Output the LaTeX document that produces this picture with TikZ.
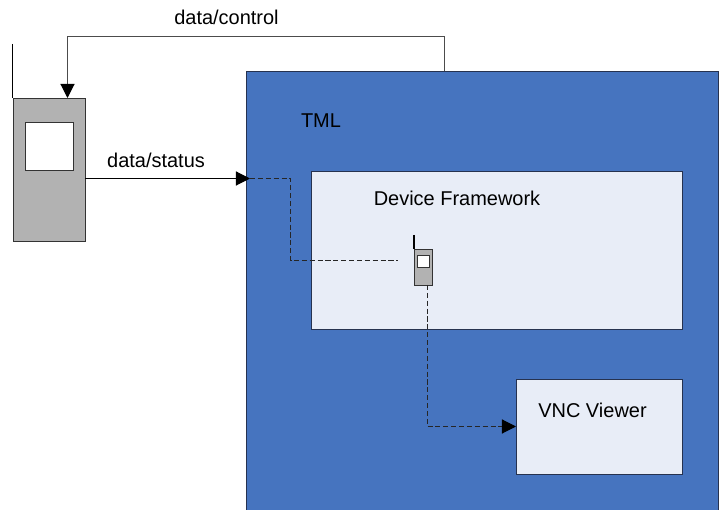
\documentclass[tikz,border=0pt]{standalone}
\usepackage{fontspec}
\setmainfont{Liberation Sans}
\usetikzlibrary{arrows.meta}
\definecolor{tmlblue}{HTML}{4674BF}
\definecolor{palebox}{HTML}{E8EDF7}
\definecolor{phonegray}{HTML}{B2B2B2}
\definecolor{edgeblue}{HTML}{26324F}
\tikzset{
  box/.style={draw=edgeblue,line width=.8pt,fill=palebox,inner sep=0pt},
  phonebox/.style={draw=black!80,line width=.8pt,fill=phonegray,inner sep=0pt},
  screenbox/.style={draw=black!80,line width=.8pt,fill=white,inner sep=0pt},
  label/.style={font=\fontsize{14.2}{17}\selectfont,inner sep=0pt},
  solidlink/.style={line width=.8pt,-{Triangle[length=10pt,width=10pt,color=black]}},
  dashlink/.style={line width=.8pt,dash pattern=on 3.6pt off 2pt,draw=black!85},
}
\begin{document}
\begin{tikzpicture}[x=.025cm,y=-.025cm]
  \useasboundingbox (0,0) rectangle (719,510);
  \node[box,fill=tmlblue,minimum width=11.8cm,minimum height=10.975cm] (tml) at (482.5,291) {};
  \node[box,minimum width=9.275cm,minimum height=3.95cm] (framework) at (497,250.5) {};
  \node[box,minimum width=4.15cm,minimum height=2.375cm] (vnc) at (599.5,427) {};
  \node[phonebox,minimum width=1.8cm,minimum height=3.575cm] (phone) at (49.5,170) {};
  \node[screenbox,minimum width=1.2cm,minimum height=1.2cm] (screen) at (49.5,146.5) {};
  \node[phonebox,minimum width=.45cm,minimum height=.9cm] (smallphone) at (423.5,267.3) {};
  \node[screenbox,minimum width=.31cm,minimum height=.3cm] (smallscreen) at (423.7,261.3) {};
  \node[label] (tmltext) at (321,121) {TML};
  \node[label] (frameworktext) at (457,198) {Device Framework};
  \node[label] (vnctext) at (592.5,410) {VNC Viewer};
  \node[label] (controltext) at (226.5,17) {data/control};
  \node[label] (statustext) at (156,160) {data/status};
  \coordinate (antennatop) at (phone.north west |- 0,44);
  \coordinate (smallantennatop) at (smallphone.north west |- 0,235);
  \coordinate (controlstart) at (444.5,71);
  \coordinate (controlend) at (67.5,98);
  \coordinate (controlup) at (444.5,36.5);
  \coordinate (controlleft) at (67.5,36.5);
  \coordinate (statusstart) at (85,178.5);
  \coordinate (statusend) at (250,178.5);
  \coordinate (innerstart) at (250,178.5);
  \coordinate (innerbend) at (290.5,178.5);
  \coordinate (innerdown) at (290.5,260.5);
  \coordinate (innerend) at (398,260.5);
  \coordinate (viewerstart) at (427.5,285);
  \coordinate (viewerbend) at (427.5,426.5);
  \coordinate (viewerend) at (516,426.5);
  \draw[line width=.8pt] (antennatop) -- (phone.north west);
  \draw[line width=.8pt] (smallantennatop) -- (smallphone.north west);
  \draw[solidlink,draw=black!70] (controlstart) -- (controlup) -- (controlleft) -- (controlend);
  \draw[solidlink] (statusstart) -- (statusend);
  \draw[dashlink] (innerstart) -- (innerbend) -- (innerdown) -- (innerend);
  \draw[dashlink] (viewerstart) -- (viewerbend);
  \draw[dashlink,-{Triangle[length=10pt,width=10pt,color=black]}] (viewerbend) -- (viewerend);
\end{tikzpicture}
\end{document}
